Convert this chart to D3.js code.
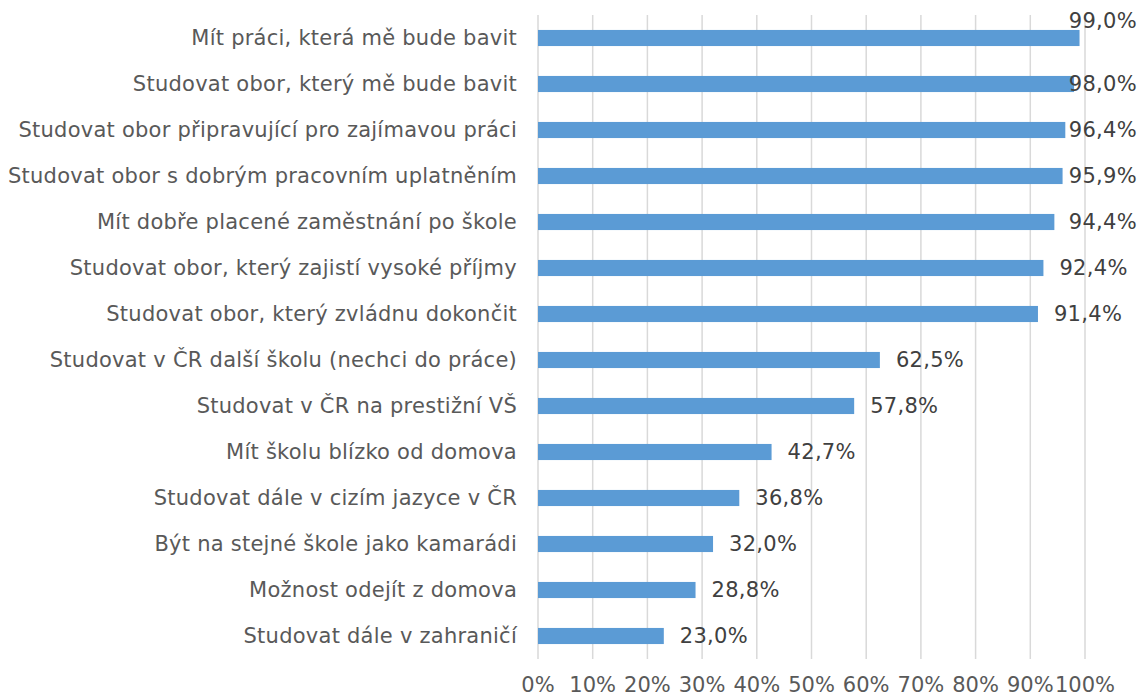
<!DOCTYPE html>
<html>
<head>
<meta charset="utf-8">
<script src="https://cdn.jsdelivr.net/npm/d3@7"></script>
<style>
  body { margin: 0; background: #fff; }
  svg { display: block; font-family: Verdana, "DejaVu Sans", sans-serif; }
</style>
</head>
<body>
<svg id="chart" width="1142" height="697"></svg>
<script>
'use strict';

const categories = [
    "Mít práci, která mě bude bavit",
    "Studovat obor, který mě bude bavit",
    "Studovat obor připravující pro zajímavou práci",
    "Studovat obor s dobrým pracovním uplatněním",
    "Mít dobře placené zaměstnání po škole",
    "Studovat obor, který zajistí vysoké příjmy",
    "Studovat obor, který zvládnu dokončit",
    "Studovat v ČR další školu (nechci do práce)",
    "Studovat v ČR na prestižní VŠ",
    "Mít školu blízko od domova",
    "Studovat dále v cizím jazyce v ČR",
    "Být na stejné škole jako kamarádi",
    "Možnost odejít z domova",
    "Studovat dále v zahraničí"
];
const values = [99.0, 98.0, 96.4, 95.9, 94.4, 92.4, 91.4, 62.5, 57.8, 42.7, 36.8, 32.0, 28.8, 23.0];
const ticks = [0, 10, 20, 30, 40, 50, 60, 70, 80, 90, 100];

const W = 1142, H = 697;
const margin = {top: 15, right: 57, bottom: 38, left: 538};
const fmt = v => v.toFixed(1).replace(".", ",") + "%";

const svg = d3.select("#chart");

const x = d3.scaleLinear().domain([0, 100]).range([margin.left, W - margin.right]);
const y = d3.scaleBand().domain(categories).range([margin.top, H - margin.bottom]).paddingInner(0.65).paddingOuter(0.325);

// gridlines
svg.append("g").selectAll("line").data(ticks).join("line")
    .attr("x1", d => x(d)).attr("x2", d => x(d))
    .attr("y1", margin.top).attr("y2", H - margin.bottom)
    .attr("stroke", "#d9d9d9").attr("stroke-width", 1.5);

// x tick labels
svg.append("g").selectAll("text").data(ticks).join("text")
    .attr("x", d => x(d))
    .attr("y", 692)
    .attr("text-anchor", "middle")
    .attr("font-size", 21)
    .attr("fill", "#595959")
    .text(d => d + "%");

// category labels
svg.append("g").selectAll("text").data(categories).join("text")
    .attr("x", margin.left - 21)
    .attr("y", d => y(d) + y.bandwidth() / 2)
    .attr("text-anchor", "end")
    .attr("dominant-baseline", "central")
    .attr("font-size", 21)
    .attr("letter-spacing", 0.25)
    .attr("fill", "#595959")
    .text(d => d);

// bars
svg.append("g").selectAll("rect").data(values).join("rect")
    .attr("x", x(0))
    .attr("y", (d, i) => y(categories[i]))
    .attr("width", d => x(d) - x(0))
    .attr("height", y.bandwidth())
    .attr("fill", "#5b9bd5");

// value labels, pulled back inside the chart if they would overflow
const lbl = svg.append("g").selectAll("text").data(values).join("text")
    .attr("font-size", 21)
    .attr("letter-spacing", 0.3)
    .attr("fill", "#404040")
    .attr("dominant-baseline", "central")
    .text(d => fmt(d));
lbl.each(function(d, i) {
    const w = this.getComputedTextLength();
    let lx = x(d) + 16, ly = y(categories[i]) + y.bandwidth() / 2;
    if (lx + w > W - 5) {
        lx = W - 5 - w;
        if (i === 0) ly -= 17;
    }
    d3.select(this).attr("x", lx).attr("y", ly);
});
</script>
</body>
</html>
